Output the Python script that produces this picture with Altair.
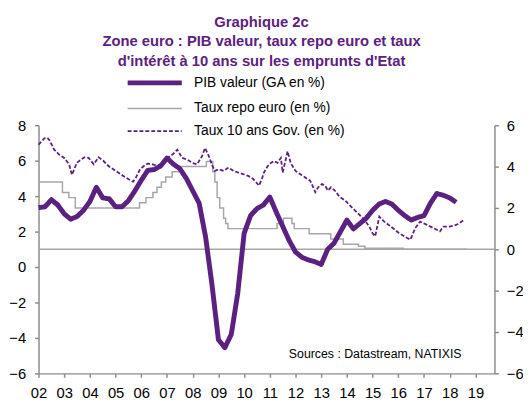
import altair as alt
import pandas as pd

PURPLE = "#5B2180"
GREY = "#A6A6A6"
AXIS_GREY = "#8C8C8C"
FONT = "Liberation Sans"

SERIES = ["PIB valeur (GA en %)", "Taux repo euro (en %)", "Taux 10 ans Gov. (en %)"]

# PIB valeur, quarterly y/y growth (left axis), 2002Q1 .. 2018Q2
pib_vals = [3.35, 3.4, 3.8, 3.5, 3.0, 2.7, 2.85, 3.2,
            3.7, 4.5, 3.9, 3.85, 3.4, 3.4, 3.75, 4.3,
            4.9, 5.45, 5.5, 5.7, 6.15, 5.8, 5.55, 5.0,
            4.3, 3.6, 1.7, -1.0, -4.1, -4.55, -3.8, -1.5,
            1.9, 2.9, 3.3, 3.5, 3.95, 3.1, 2.3, 1.5,
            0.85, 0.55, 0.4, 0.3, 0.15, 1.0, 1.35, 2.0,
            2.65, 2.15, 2.45, 2.75, 3.2, 3.55, 3.7, 3.55,
            3.2, 2.9, 2.65, 2.8, 2.9, 3.6, 4.15, 4.05,
            3.9, 3.65]
pib_t = [2002 + 0.25 * i for i in range(len(pib_vals))]

# Taux repo euro (right axis), change dates and levels
repo_t = [2002.00, 2002.93, 2003.18, 2003.43, 2005.93, 2006.18, 2006.45, 2006.61,
          2006.78, 2006.95, 2007.20, 2007.45, 2008.53, 2008.78, 2008.86, 2008.95,
          2009.05, 2009.20, 2009.28, 2009.37, 2011.28, 2011.53, 2011.86, 2011.95,
          2012.53, 2013.37, 2013.86, 2014.45, 2014.70, 2016.20, 2018.67]
repo_vals = [3.25, 2.75, 2.50, 2.00, 2.25, 2.50, 2.75, 3.00,
             3.25, 3.50, 3.75, 4.00, 4.25, 3.75, 3.25, 2.50,
             2.00, 1.50, 1.25, 1.00, 1.25, 1.50, 1.25, 1.00,
             0.75, 0.50, 0.25, 0.15, 0.05, 0.00, 0.00]

# Taux 10 ans Gov. (right axis)
ten_t = [2002.00, 2002.23, 2002.34, 2002.42, 2002.61, 2002.80, 2003.00, 2003.19, 2003.30, 2003.49,
         2003.65, 2003.80, 2003.95, 2004.15, 2004.34, 2004.53, 2004.72, 2004.91, 2005.10, 2005.30,
         2005.49, 2005.68, 2005.79, 2005.95, 2006.10, 2006.25, 2006.44, 2006.63, 2006.83, 2007.02,
         2007.21, 2007.40, 2007.59, 2007.79, 2007.98, 2008.17, 2008.36, 2008.48, 2008.63, 2008.74,
         2008.86, 2009.01, 2009.20, 2009.39, 2009.59, 2009.78, 2009.97, 2010.16, 2010.35, 2010.58,
         2010.69, 2010.77, 2010.92, 2011.04, 2011.16, 2011.30, 2011.43, 2011.50, 2011.62, 2011.69,
         2011.81, 2012.00, 2012.19, 2012.38, 2012.57, 2012.69, 2012.77, 2012.88, 2013.03, 2013.15,
         2013.26, 2013.38, 2013.53, 2013.72, 2013.92, 2014.11, 2014.30, 2014.49, 2014.68, 2014.87,
         2014.99, 2015.10, 2015.26, 2015.45, 2015.71, 2016.02, 2016.34, 2016.47, 2016.66, 2016.85,
         2017.11, 2017.36, 2017.62, 2017.75, 2018.00, 2018.25, 2018.38, 2018.58]
ten_vals = [5.06, 5.37, 5.40, 5.29, 4.82, 4.58, 4.42, 4.11, 3.60, 4.18,
            4.34, 4.45, 4.42, 4.11, 4.45, 4.27, 4.03, 3.87, 3.71, 3.55,
            3.40, 3.27, 3.47, 3.87, 4.03, 4.14, 4.11, 4.03, 4.18, 4.42,
            4.58, 4.82, 4.42, 4.34, 4.18, 4.11, 4.50, 4.90, 4.50, 4.11,
            3.79, 3.87, 3.79, 3.95, 3.79, 3.71, 3.63, 3.55, 3.40, 3.08,
            3.40, 3.71, 4.03, 4.18, 4.27, 4.18, 4.42, 3.71, 4.34, 4.74,
            4.18, 3.79, 3.63, 3.47, 3.32, 3.00, 2.76, 3.00, 3.16, 3.08,
            2.84, 3.00, 2.84, 2.53, 2.37, 2.13, 1.90, 1.66, 1.42, 1.10,
            0.79, 0.63, 1.58, 1.34, 1.10, 0.79, 0.55, 0.47, 1.03, 1.34,
            1.18, 1.03, 0.87, 1.10, 1.10, 1.18, 1.27, 1.45]

x_years = list(range(2002, 2020))
left_ticks = [-6, -4, -2, 0, 2, 4, 6, 8]
right_ticks = [-6, -4, -2, 0, 2, 4, 6]

TITLE = ["Graphique 2c",
         "Zone euro : PIB valeur, taux repo euro et taux",
         "d'intérêt à 10 ans sur les emprunts d'Etat"]
SOURCE = "Sources  : Datastream,  NATIXIS"

pib_df = pd.DataFrame({"t": pib_t, "v": pib_vals, "series": SERIES[0]})
repo_df = pd.DataFrame({"t": repo_t, "v": repo_vals, "series": SERIES[1]})
ten_df = pd.DataFrame({"t": ten_t, "v": ten_vals, "series": SERIES[2]})
zero_df = pd.DataFrame({"v": [0]})
src_df = pd.DataFrame({"t": [2015.1], "v": [-4.93], "label": [SOURCE]})

x_enc = alt.X("t:Q",
              scale=alt.Scale(domain=[2002, 2019.74], nice=False, zero=False),
              axis=alt.Axis(values=x_years, labelExpr="substring(toString(datum.value), 2, 4)",
                            title=None, grid=False, labelFontSize=15, labelPadding=9,
                            tickSize=4, labelFlush=False))

legend = alt.Legend(title=None, orient="none", legendX=110, legendY=-51,
                    symbolType="M-5,0L5,0", symbolSize=121, labelOffset=32,
                    labelFontSize=14, labelFont=FONT, labelColor="#000000",
                    rowPadding=9, padding=0, labelLimit=300)

color_enc = alt.Color("series:N", scale=alt.Scale(domain=SERIES, range=[PURPLE, GREY, PURPLE]),
                      legend=legend)
dash_enc = alt.StrokeDash("series:N", scale=alt.Scale(domain=SERIES, range=[[1, 0], [1, 0], [4, 2]]),
                          legend=legend)
width_enc = alt.StrokeWidth("series:N",
                            scale=alt.Scale(type="ordinal", domain=SERIES, range=[5, 1.5, 1.8]),
                            legend=legend)

y_left = alt.Y("v:Q", scale=alt.Scale(domain=[-6, 8], nice=False, zero=False),
               axis=alt.Axis(orient="left", values=left_ticks, title=None, grid=False,
                             labelFontSize=15, labelPadding=9, tickSize=4))
y_right = alt.Y("v:Q", scale=alt.Scale(domain=[-6, 6], nice=False, zero=False),
                axis=alt.Axis(orient="right", values=right_ticks, title=None, grid=False,
                              labelFontSize=15, labelPadding=8, tickSize=4))

pib = alt.Chart(pib_df).mark_line(strokeJoin="round").encode(
    x=x_enc, y=y_left, color=color_enc, strokeDash=dash_enc, strokeWidth=width_enc)

src = alt.Chart(src_df).mark_text(fontSize=12.5, font=FONT, color="#000000",
                                  align="center", baseline="middle").encode(
    x=x_enc, y=y_left, text="label:N")

zero = alt.Chart(zero_df).mark_rule(color=GREY, strokeWidth=1.5).encode(y=y_right)

repo = alt.Chart(repo_df).mark_line(interpolate="step-after").encode(
    x=x_enc, y=y_right, color=color_enc, strokeDash=dash_enc, strokeWidth=width_enc)

ten = alt.Chart(ten_df).mark_line().encode(
    x=x_enc, y=y_right, color=color_enc, strokeDash=dash_enc, strokeWidth=width_enc)

left_layer = alt.layer(pib, src)
right_layer = alt.layer(zero, repo, ten)

chart = alt.layer(right_layer, left_layer).resolve_scale(y="independent").properties(
    width=463, height=252,
    autosize=alt.AutoSizeParams(type="none"),
    padding={"left": 31, "top": 116, "right": 29, "bottom": 26},
    title=alt.TitleParams(text=TITLE, fontSize=15, fontWeight="bold", color=PURPLE,
                          font=FONT, anchor="middle", lineHeight=20, offset=6, dx=-5),
).configure_view(stroke=None).configure_axis(
    domainColor=AXIS_GREY, tickColor=AXIS_GREY, labelColor="#000000", labelFont=FONT,
    domainWidth=1.5, tickWidth=1.5,
).configure_legend(symbolStrokeColor=PURPLE)

chart.save("out.html", embed_options={"renderer": "svg", "actions": False})
